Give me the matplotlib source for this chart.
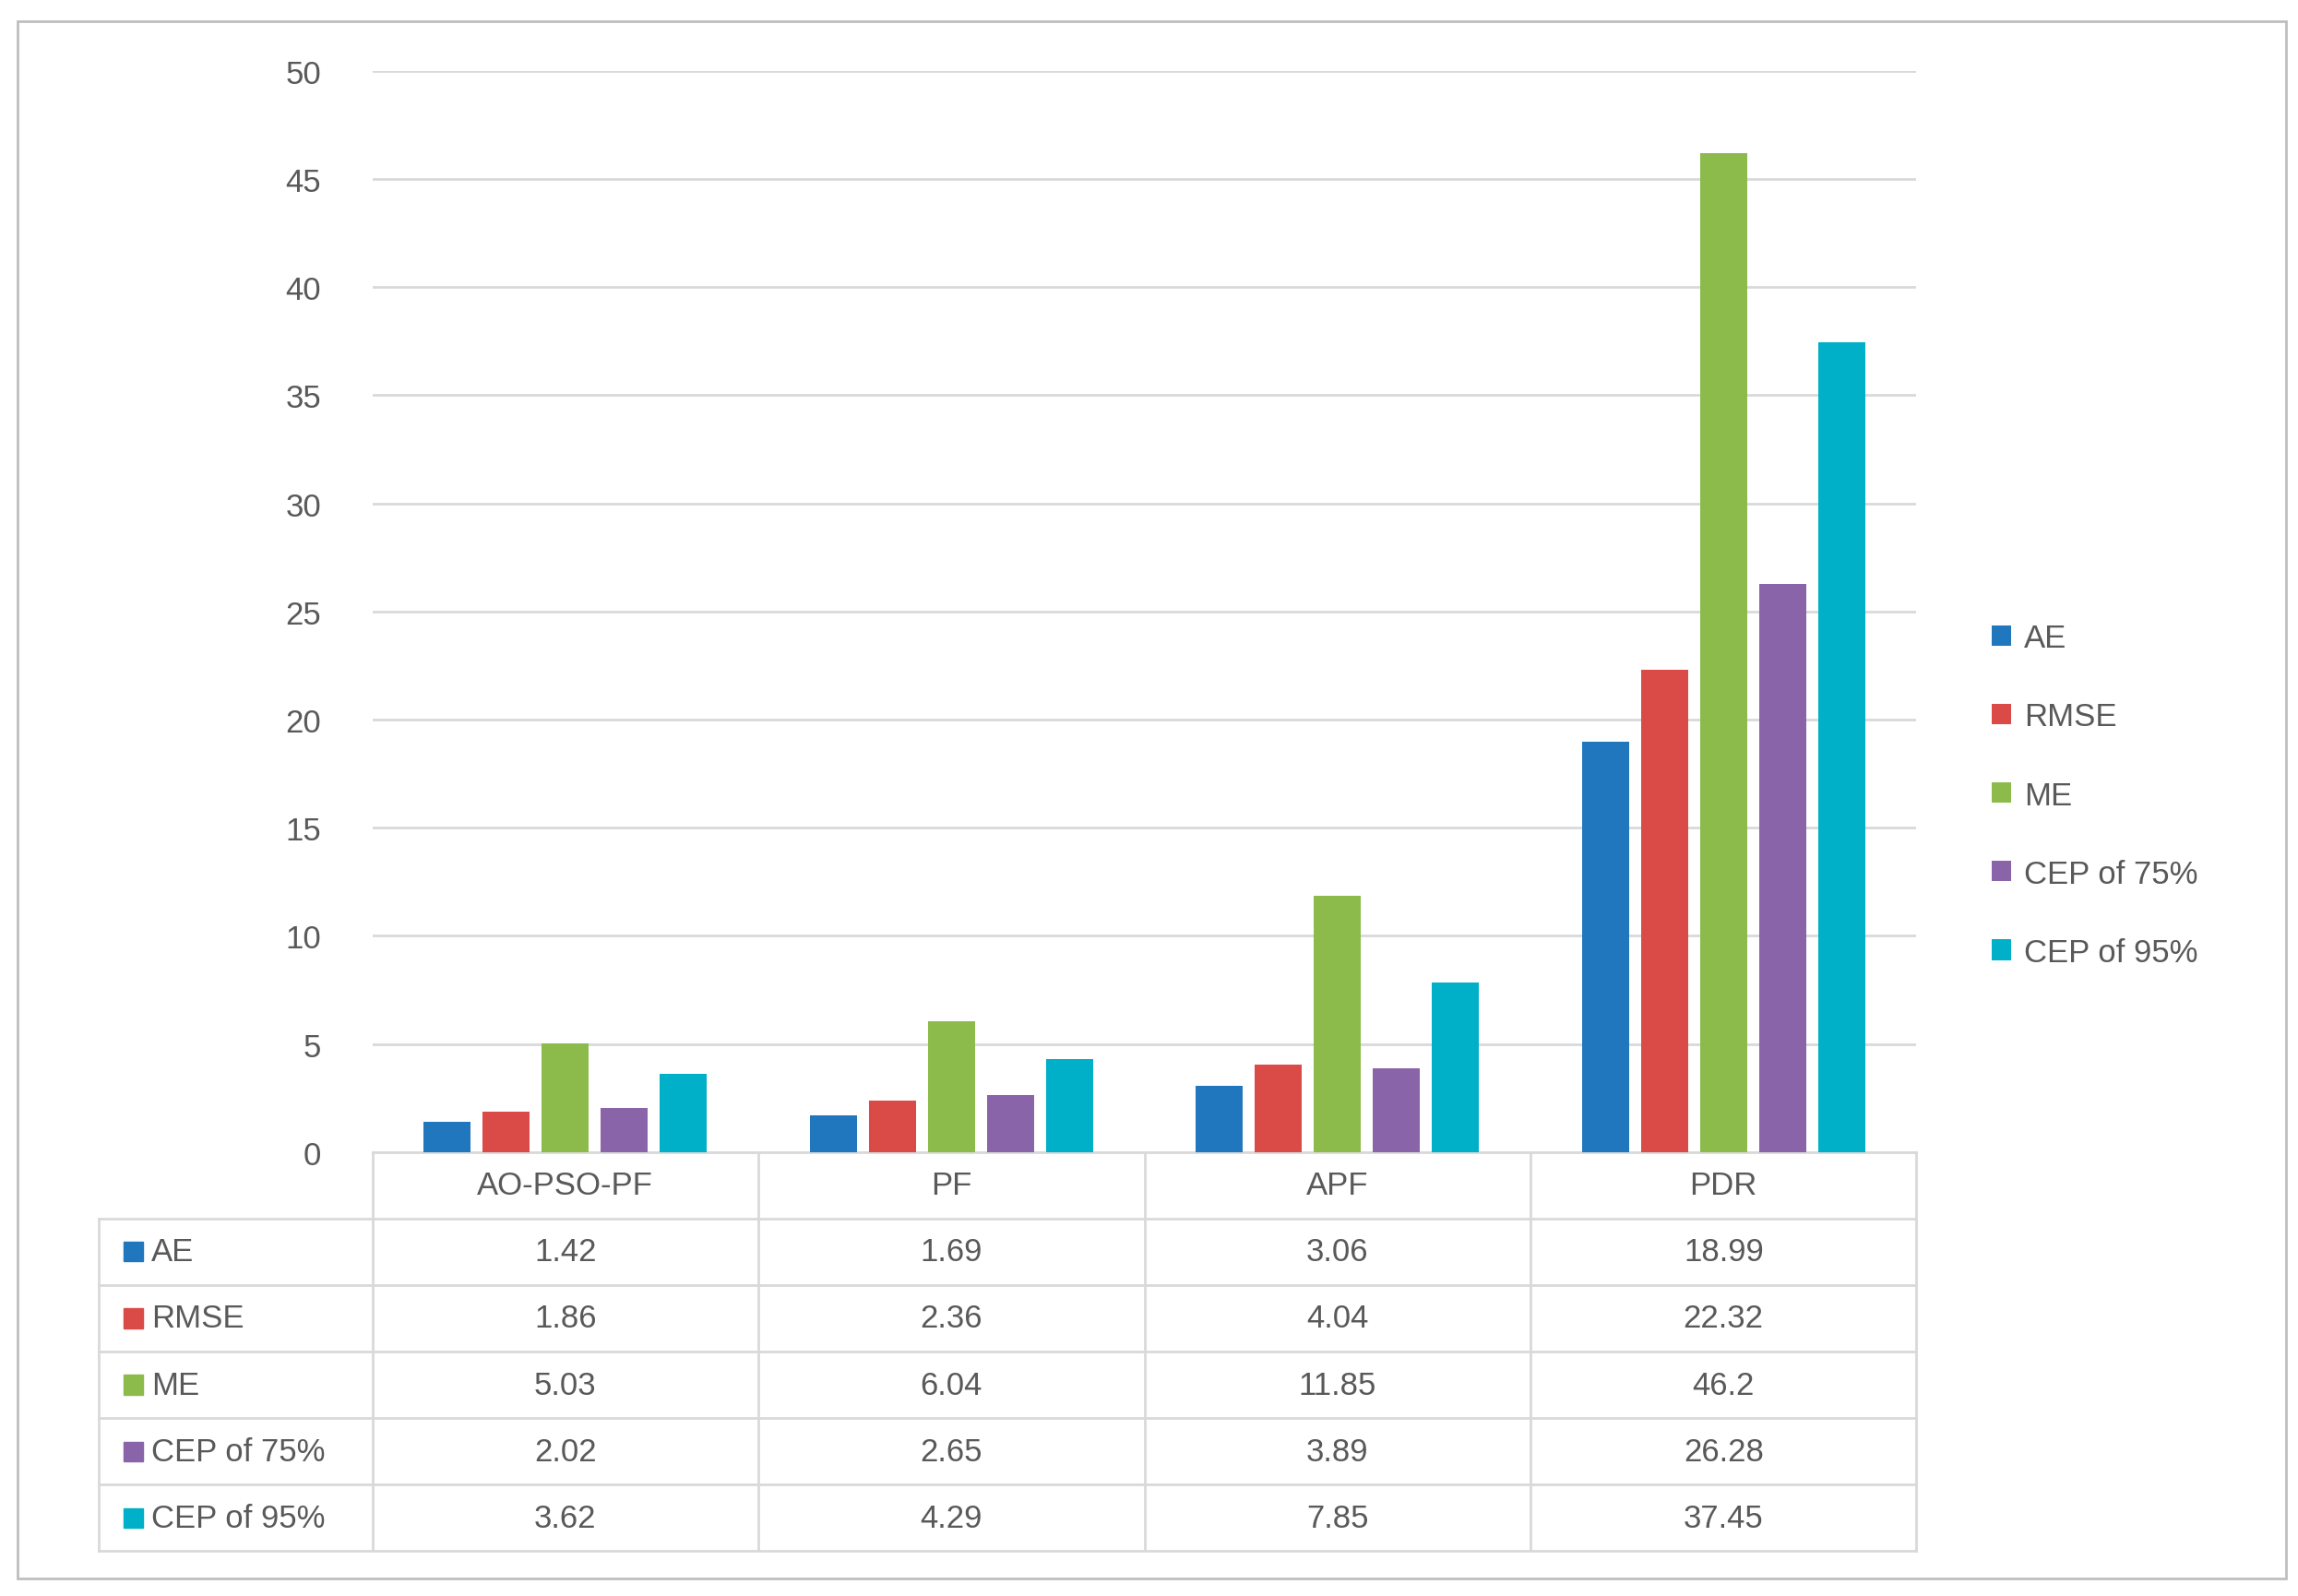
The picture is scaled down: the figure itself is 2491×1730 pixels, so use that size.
import matplotlib
matplotlib.use("Agg")
import matplotlib.pyplot as plt
from matplotlib.patches import Rectangle
import numpy as np

categories = ["AO-PSO-PF", "PF", "APF", "PDR"]
series = ["AE", "RMSE", "ME", "CEP of 75%", "CEP of 95%"]
AE = [1.42, 1.69, 3.06, 18.99]
RMSE = [1.86, 2.36, 4.04, 22.32]
ME = [5.03, 6.04, 11.85, 46.2]
CEP75 = [2.02, 2.65, 3.89, 26.28]
CEP95 = [3.62, 4.29, 7.85, 37.45]
values = [AE, RMSE, ME, CEP75, CEP95]
colors = ["#2077BE", "#DA4B48", "#8CBB4B", "#8A64A8", "#00AFC8"]
txt = "#595959"
grid = "#D9D9D9"

plt.rcParams['font.family'] = ['Liberation Sans', 'DejaVu Sans']
fig = plt.figure(figsize=(24.91, 17.31), dpi=100)
ax = fig.add_axes([0.162, 0.278, 0.672, 0.677])
x = np.arange(len(categories))
step, w = 0.153, 0.122
for i, (s, v) in enumerate(zip(series, values)):
    ax.bar(x + (i - 2) * step, v, w, color=colors[i], label=s, zorder=3)
ax.set_xlim(-0.5, 3.5)
ax.set_ylim(0, 50)
ax.set_yticks(range(0, 51, 5))
ax.yaxis.grid(True, color=grid, lw=2, zorder=0)
ax.set_xticks([])
ax.tick_params(axis='y', length=0, labelsize=25, labelcolor=txt, pad=40)
for sp in ax.spines.values():
    sp.set_visible(False)

# manual table
T = ax.transAxes
rh = 0.369 / 6
xl = -0.177
def line(xs, ys):
    ax.plot(xs, ys, transform=T, color=grid, lw=2, clip_on=False)
line([0, 1], [0, 0])
for k in range(1, 7):
    line([xl, 1], [-k * rh, -k * rh])
line([xl, xl], [-rh, -6 * rh])
for c in range(5):
    line([c * 0.25, c * 0.25], [0, -6 * rh])
for j, cat in enumerate(categories):
    ax.text((j + 0.5) * 0.25, -0.5 * rh, cat, transform=T, ha='center', va='center',
            fontsize=25, color=txt)
for i, (s, v) in enumerate(zip(series, values)):
    yc = -(i + 1.5) * rh
    ax.add_patch(Rectangle((-0.161, yc - 0.009), 0.0125, 0.018, transform=T,
                           color=colors[i], clip_on=False))
    ax.text(-0.143, yc, s, transform=T, ha='left', va='center', fontsize=25, color=txt)
    for j in range(4):
        ax.text((j + 0.5) * 0.25, yc, str(v[j]), transform=T, ha='center', va='center',
                fontsize=25, color=txt)

leg = ax.legend(loc='center left', bbox_to_anchor=(1.03, 0.33), frameon=False,
                fontsize=25, handlelength=0.6, handleheight=0.6, labelspacing=1.5,
                handletextpad=0.4)
for t in leg.get_texts():
    t.set_color(txt)

fig.add_artist(Rectangle((0.0077, 0.011), 0.9872, 0.975, transform=fig.transFigure,
                         fill=False, edgecolor="#BFBFBF", lw=2))
fig.savefig("out.png", dpi=100)
